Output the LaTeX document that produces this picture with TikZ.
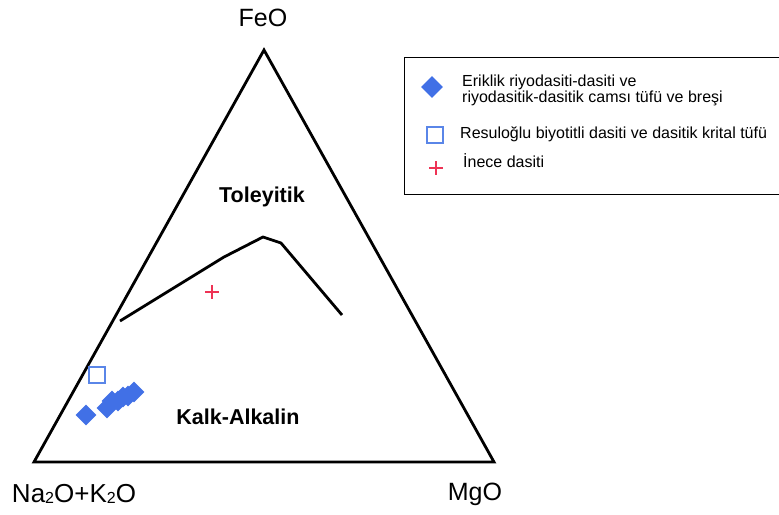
\documentclass[tikz,border=0pt]{standalone}
\usepackage{fontspec}
\setmainfont{Liberation Sans}
\usetikzlibrary{shapes.geometric,calc}
\definecolor{dblue}{HTML}{4170E6}
\definecolor{sqblue}{HTML}{5A86E8}
\definecolor{pred}{HTML}{EE3355}
\tikzset{
  axis/.style={draw=black, line width=2.8pt, line join=miter},
  bound/.style={draw=black, line width=2.8pt, line join=round},
  vlabel/.style={font=\fontsize{25}{28}\selectfont, inner sep=0pt},
  flabel/.style={font=\fontsize{21.5}{24}\selectfont\bfseries, inner sep=0pt},
  legtext/.style={font=\fontsize{16}{16}\selectfont, inner sep=0pt, anchor=west, align=left},
  dmark/.style={diamond, fill=dblue, draw=none, minimum width=21pt, minimum height=21pt, inner sep=0pt},
  smark/.style={rectangle, draw=sqblue, line width=1.4pt, fill=white, minimum width=16pt, minimum height=16pt, inner sep=0pt},
  pmark/.style={draw=pred, line width=1.8pt},
}
\begin{document}
\begin{tikzpicture}[x=1pt,y=-1pt]
\useasboundingbox (0,0) rectangle (779,514);
% triangle
\coordinate (A) at (264,50);
\coordinate (B) at (34,462);
\coordinate (C) at (494,462);
\draw[axis] (A) -- (B) -- (C) -- cycle;
% vertex labels
\node[vlabel] (feo) at (263,18) {FeO};
\node[vlabel] (mgo) at (475,494) {MgO};
\node[vlabel, font=\fontsize{26}{28}\selectfont] (nak) at (74,494) {Na\raisebox{-0.02em}{\fontsize{16}{16}\selectfont 2}O+K\raisebox{-0.02em}{\fontsize{16}{16}\selectfont 2}O};
% field labels
\node[flabel] (tol) at (262,197) {Toleyitik};
\node[flabel] (kalk) at (238,417) {Kalk-Alkalin};
% boundary line
\coordinate (b1) at (120,321);
\coordinate (b2) at (224,257);
\coordinate (b3) at (263,237);
\coordinate (b4) at (281,243);
\coordinate (b5) at (342,315);
\draw[bound] (b1) -- (b2) -- (b3) -- (b4) -- (b5);
% data points
\node[dmark] (d1) at (86,415) {};
\node[dmark] (d2) at (107,408) {};
\node[dmark] (d3) at (112,401) {};
\node[dmark] (d4) at (118,401) {};
\node[dmark] (d5) at (123,397) {};
\node[dmark] (d6) at (128,396) {};
\node[dmark] (d7) at (134,392) {};
\node[smark] (s1) at (97,375) {};
\coordinate (p1) at (212,292);
\draw[pmark] ($(p1)+(-7,0)$) -- ($(p1)+(7,0)$) ($(p1)+(0,-7)$) -- ($(p1)+(0,7)$);
% legend
\node[draw=black, line width=1.4pt, minimum width=380pt, minimum height=137pt, anchor=north west, inner sep=0pt] (leg) at (404,57) {};
\node[dmark, minimum width=22pt, minimum height=22pt] (ld) at (432,87) {};
\node[legtext] (lt1) at (462,90) {Eriklik riyodasiti-dasiti ve\\riyodasitik-dasitik camsı tüfü ve breşi};
\node[smark] (ls) at (435,135) {};
\node[legtext] (lt2) at (460,134) {Resuloğlu biyotitli dasiti ve dasitik krital tüfü};
\coordinate (lp) at (436,168);
\draw[pmark] ($(lp)+(-7,0)$) -- ($(lp)+(7,0)$) ($(lp)+(0,-7)$) -- ($(lp)+(0,7)$);
\node[legtext] (lt3) at (463,161) {İnece dasiti};
\end{tikzpicture}
\end{document}
